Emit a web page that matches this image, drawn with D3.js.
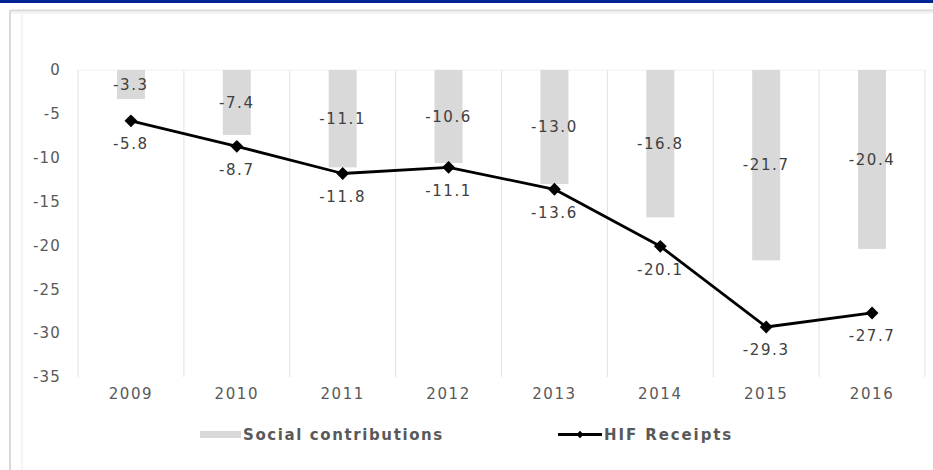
<!DOCTYPE html>
<html>
<head>
<meta charset="utf-8">
<script src="https://cdn.jsdelivr.net/npm/d3@7"></script>
<style>
  html, body { margin: 0; padding: 0; background: #ffffff; }
  svg { display: block; }
  text { font-family: "DejaVu Sans", Verdana, sans-serif; }
</style>
</head>
<body>
<svg id="chart" width="933" height="470"></svg>
<script>
// Years shown on the category axis
const years = ["2009", "2010", "2011", "2012", "2013", "2014", "2015", "2016"];
// Social contributions (bars)
const socialContributions = [-3.3, -7.4, -11.1, -10.6, -13.0, -16.8, -21.7, -20.4];
// HIF receipts (line)
const hifReceipts = [-5.8, -8.7, -11.8, -11.1, -13.6, -20.1, -29.3, -27.7];
// Value axis ticks
const yTicks = [0, -5, -10, -15, -20, -25, -30, -35];
const seriesNames = ["Social contributions", "HIF Receipts"];

const svg = d3.select("#chart");
const W = 933, H = 470;
const plot = { left: 78, right: 925, top: 70, bottom: 377 };

// Frame: blue strip at the top and the light panel border
svg.append("rect").attr("x", 0).attr("y", 0).attr("width", W).attr("height", 3).attr("fill", "#002496");
svg.append("line").attr("x1", 10).attr("x2", W).attr("y1", 10.5).attr("y2", 10.5)
  .attr("stroke", "#d9d9d9").attr("stroke-width", 2);
svg.append("line").attr("x1", 10).attr("x2", W).attr("y1", 12.5).attr("y2", 12.5)
  .attr("stroke", "#f0f0f0").attr("stroke-width", 2);
svg.append("line").attr("x1", 10).attr("x2", 10).attr("y1", 10).attr("y2", H)
  .attr("stroke", "#d9d9d9").attr("stroke-width", 2);
svg.append("line").attr("x1", 22).attr("x2", 22).attr("y1", 12).attr("y2", H)
  .attr("stroke", "#f4f4f4").attr("stroke-width", 2);

const x = d3.scaleBand().domain(years).range([plot.left, plot.right]).paddingInner(0).paddingOuter(0);
const y = d3.scaleLinear().domain([-35, 0]).range([plot.bottom, plot.top]);

// Vertical separators between categories
const bounds = years.map(d => x(d)).concat([x(years[years.length - 1]) + x.bandwidth()]);
svg.append("g").selectAll("line").data(bounds).join("line")
  .attr("x1", d => d).attr("x2", d => d)
  .attr("y1", plot.top).attr("y2", plot.bottom)
  .attr("stroke", "#e6e6e6").attr("stroke-width", 1.2);
// faint zero line
svg.append("line").attr("x1", plot.left).attr("x2", plot.right)
  .attr("y1", y(0)).attr("y2", y(0)).attr("stroke", "#f0f0f0").attr("stroke-width", 1);

// Y axis labels
const yAxis = d3.axisLeft(y).tickValues(yTicks).tickFormat(d3.format("d")).tickSize(0).tickPadding(17);
const gy = svg.append("g").attr("transform", `translate(${plot.left},0)`).call(yAxis);
gy.select(".domain").remove();
gy.selectAll("text").attr("fill", "#595959").style("font-size", "15px").style("letter-spacing", "1.2px")
  .text(d => d === 0 ? "0" : "-" + Math.abs(d));

// X axis labels
const xAxis = d3.axisBottom(x).tickSize(0).tickPadding(11);
const gx = svg.append("g").attr("transform", `translate(0,${plot.bottom})`).call(xAxis);
gx.select(".domain").remove();
gx.selectAll("text").attr("fill", "#595959").style("font-size", "15px").style("letter-spacing", "1.6px");

// Bars
const barW = 28;
svg.append("g").selectAll("rect").data(socialContributions).join("rect")
  .attr("x", (d, i) => x(years[i]) + x.bandwidth() / 2 - barW / 2)
  .attr("y", y(0))
  .attr("width", barW)
  .attr("height", d => y(d) - y(0))
  .attr("fill", "#d9d9d9");

// Bar value labels (centred in the bar)
svg.append("g").selectAll("text").data(socialContributions).join("text")
  .attr("x", (d, i) => x(years[i]) + x.bandwidth() / 2)
  .attr("y", d => (y(0) + y(d)) / 2)
  .attr("dy", "0.35em")
  .attr("text-anchor", "middle")
  .attr("fill", "#404040")
  .style("font-size", "15px").style("letter-spacing", "1.6px")
  .text(d => d.toFixed(1));

// Line
const line = d3.line()
  .x((d, i) => x(years[i]) + x.bandwidth() / 2)
  .y(d => y(d));
svg.append("path").datum(hifReceipts).attr("d", line)
  .attr("fill", "none").attr("stroke", "#000").attr("stroke-width", 2.8).attr("stroke-linejoin", "round");

const diamond = d3.symbol().type(d3.symbolDiamond2).size(105);
svg.append("g").selectAll("path").data(hifReceipts).join("path")
  .attr("transform", (d, i) => `translate(${x(years[i]) + x.bandwidth() / 2},${y(d)})`)
  .attr("d", diamond).attr("fill", "#000");

// Line value labels (below the points)
svg.append("g").selectAll("text").data(hifReceipts).join("text")
  .attr("x", (d, i) => x(years[i]) + x.bandwidth() / 2)
  .attr("y", d => y(d) + 23)
  .attr("dy", "0.35em")
  .attr("text-anchor", "middle")
  .attr("fill", "#404040")
  .style("font-size", "15px").style("letter-spacing", "1.6px")
  .text(d => d.toFixed(1));

// Legend
const lg = svg.append("g");
lg.append("rect").attr("x", 200).attr("y", 431).attr("width", 41).attr("height", 7).attr("fill", "#d9d9d9");
lg.append("text").attr("x", 243).attr("y", 435).attr("dy", "0.35em")
  .attr("fill", "#595959").style("font-size", "15px").style("font-weight", "bold").style("letter-spacing", "1.6px")
  .text(seriesNames[0]);
lg.append("line").attr("x1", 558).attr("x2", 602).attr("y1", 434.5).attr("y2", 434.5)
  .attr("stroke", "#000").attr("stroke-width", 2.8);
lg.append("path").attr("transform", "translate(580,434.5)").attr("d", d3.symbol().type(d3.symbolDiamond2).size(34)).attr("fill", "#000");
lg.append("text").attr("x", 604).attr("y", 435).attr("dy", "0.35em")
  .attr("fill", "#595959").style("font-size", "15px").style("font-weight", "bold").style("letter-spacing", "1.9px")
  .text(seriesNames[1]);
</script>
</body>
</html>
